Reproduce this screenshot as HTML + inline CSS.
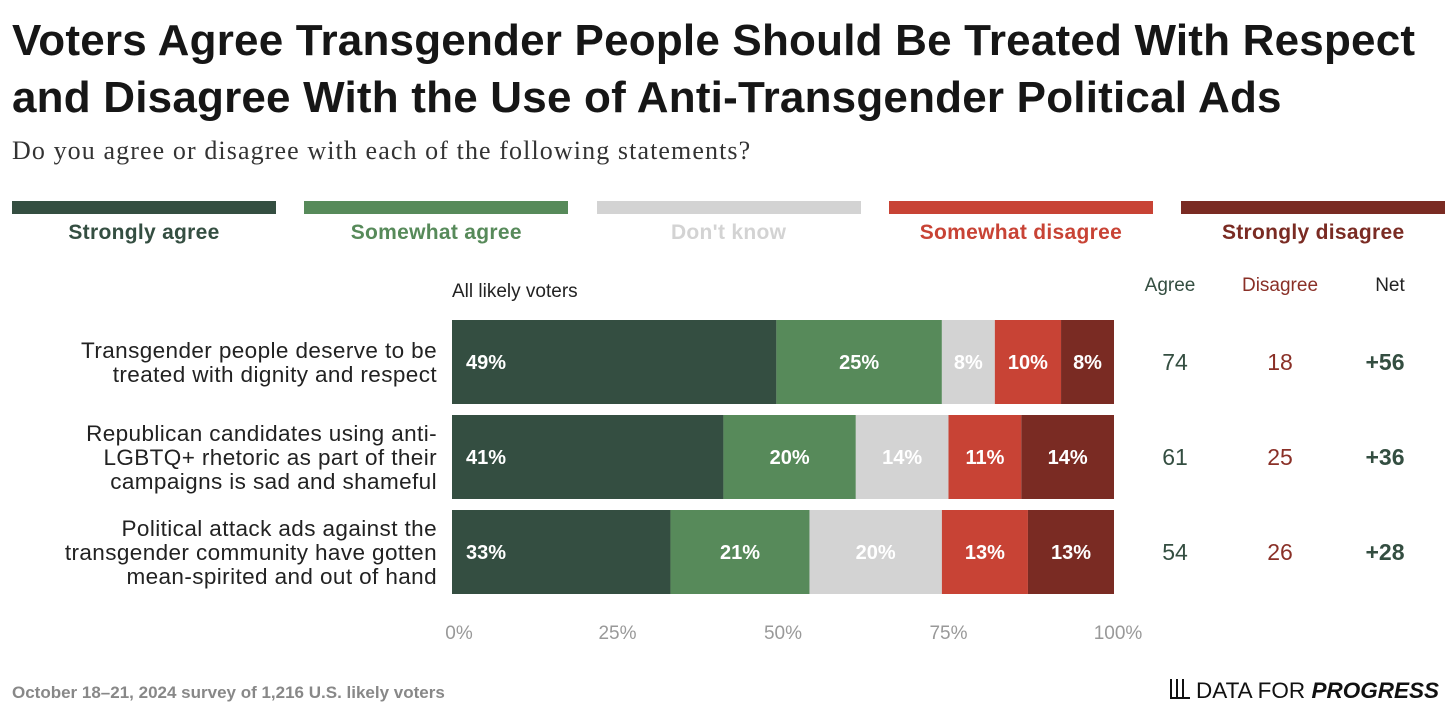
<!DOCTYPE html>
<html><head><meta charset="utf-8">
<style>
body{margin:0;width:1456px;height:716px;background:#fff;font-family:"Liberation Sans",sans-serif;position:relative;overflow:hidden}
.abs{position:absolute}
h1{position:absolute;left:12px;top:12px;margin:0;font-size:44px;line-height:57px;font-weight:bold;color:#161616;letter-spacing:0.2px;white-space:nowrap}
.sub{left:12px;top:136px;font-family:"Liberation Serif",serif;font-size:26px;color:#333;letter-spacing:1.1px;white-space:nowrap}
.sw{height:13px;top:201px}
.lg{top:221px;font-size:21px;font-weight:bold;text-align:center;letter-spacing:0.3px}
.num{font-size:22px;text-align:center;width:80px}
</style></head><body>
<h1>Voters Agree Transgender People Should Be Treated With Respect<br>and Disagree With the Use of Anti-Transgender Political Ads</h1>
<div class="abs sub">Do you agree or disagree with each of the following statements?</div>
<div id="legend"></div>
<div class="abs" style="left:452px;top:281px;font-size:19px;color:#222">All likely voters</div>
<div class="abs num" style="left:1130px;top:275px;font-size:19px;color:#344e41">Agree</div>
<div class="abs num" style="left:1230px;top:275px;font-size:19px;color:#8a3027;width:100px">Disagree</div>
<div class="abs num" style="left:1350px;top:275px;font-size:19px;color:#222">Net</div>
<svg class="abs" style="left:0;top:0" width="1456" height="716" id="chart"></svg>
<div class="abs" style="left:12px;top:683px;font-size:17px;color:#888;font-weight:bold">October 18–21, 2024 survey of 1,216 U.S. likely voters</div>
<div class="abs" style="left:1170px;top:678px;font-size:22.5px;color:#111;white-space:nowrap"><span style="display:inline-block;width:20px;height:18px;border-bottom:2px solid #111;background:linear-gradient(90deg,#111 2px,transparent 2px,transparent 6px,#111 6px,#111 8px,transparent 8px,transparent 12px,#111 12px,#111 14px,transparent 14px);margin-right:6px;vertical-align:-1px"></span>DATA FOR <b><i>PROGRESS</i></b></div>
<script>
const categories=["Strongly agree","Somewhat agree","Don't know","Somewhat disagree","Strongly disagree"];
const colors=["#344e41","#578a5a","#d3d3d3","#c84335","#7a2b23"];
const statements=[["Transgender people deserve to be","treated with dignity and respect"],["Republican candidates using anti-","LGBTQ+ rhetoric as part of their","campaigns is sad and shameful"],["Political attack ads against the","transgender community have gotten","mean-spirited and out of hand"]];
const sAgree=[49,41,33];
const wAgree=[25,20,21];
const dontKnow=[8,14,20];
const wDisagree=[10,11,13];
const sDisagree=[8,14,13];
const agreeTot=[74,61,54];
const disagreeTot=[18,25,26];
const netVals=["+56","+36","+28"];
const ticks=[0,25,50,75,100];
const X0=452,X1=1114,rowTop=320,rowH=84,rowGap=11;
const xs=v=>X0+(X1-X0)*v/100;
const svg=document.getElementById('chart');
const NS="http://www.w3.org/2000/svg";
const leg=document.getElementById('legend');
categories.forEach((c,i)=>{
 const x=12+i*292.3;
 const s=document.createElement('div');s.className='abs sw';s.style.left=x+'px';s.style.width='264px';s.style.background=colors[i];
 
 
 leg.appendChild(s);
 const l=document.createElement('div');l.className='abs lg';l.style.left=x+'px';l.style.width='264px';l.style.color=colors[i];l.textContent=c;
 
 
 leg.appendChild(l);
});
const series=[sAgree,wAgree,dontKnow,wDisagree,sDisagree];
statements.forEach((st,r)=>{
 const y=rowTop+r*(rowH+rowGap);
 const tot=series.reduce((a,s)=>a+s[r],0);
 let cum=0;
 series.forEach((s,i)=>{
  const v=s[r]*100/tot;
  const x=xs(cum),w=xs(cum+v)-x;
  const rect=document.createElementNS(NS,'rect');
  rect.setAttribute('x',x);rect.setAttribute('y',y);rect.setAttribute('width',w);rect.setAttribute('height',rowH);rect.setAttribute('fill',colors[i]);
  
  
  svg.appendChild(rect);
  const t=document.createElementNS(NS,'text');
  t.setAttribute('y',y+rowH/2+7);t.setAttribute('font-size','20');t.setAttribute('font-weight','bold');t.setAttribute('fill','#fff');
  t.setAttribute('font-family','Liberation Sans, sans-serif');
  if(i==0){t.setAttribute('x',x+14);}
  else{t.setAttribute('x',x+w/2);t.setAttribute('text-anchor','middle');}
  t.textContent=s[r]+'%';
  
  
  svg.appendChild(t);
  cum+=v;
 });
 const n=st.length;
 st.forEach((line,k)=>{
  const t=document.createElementNS(NS,'text');
  t.setAttribute('x',437);t.setAttribute('text-anchor','end');t.setAttribute('font-size','22.5');t.setAttribute('fill','#222');
  t.setAttribute('letter-spacing','0.4');
  t.setAttribute('font-family','Liberation Sans, sans-serif');
  t.setAttribute('y',y+rowH/2+8+(k-(n-1)/2)*24);
  t.textContent=line;
  
  
  svg.appendChild(t);
 });
 [[agreeTot[r],1175,'#344e41','normal'],[disagreeTot[r],1280,'#8a3027','normal'],[netVals[r],1385,'#344e41','bold']].forEach(([v,x,c,fw])=>{
  const t=document.createElementNS(NS,'text');
  t.setAttribute('x',x);t.setAttribute('y',y+rowH/2+8);t.setAttribute('text-anchor','middle');t.setAttribute('font-size','23');
  t.setAttribute('fill',c);t.setAttribute('font-weight',fw);t.setAttribute('font-family','Liberation Sans, sans-serif');
  t.textContent=v;
  
  
  svg.appendChild(t);
 });
});
ticks.forEach(v=>{
 const t=document.createElementNS(NS,'text');
 t.setAttribute('x',xs(v)+(v==0?7:v==100?4:0));t.setAttribute('y',639);t.setAttribute('text-anchor','middle');t.setAttribute('font-size','19');t.setAttribute('fill','#999');
 t.setAttribute('font-family','Liberation Sans, sans-serif');
 t.textContent=v+'%';
 
 
 svg.appendChild(t);
});
</script>
</body></html>
